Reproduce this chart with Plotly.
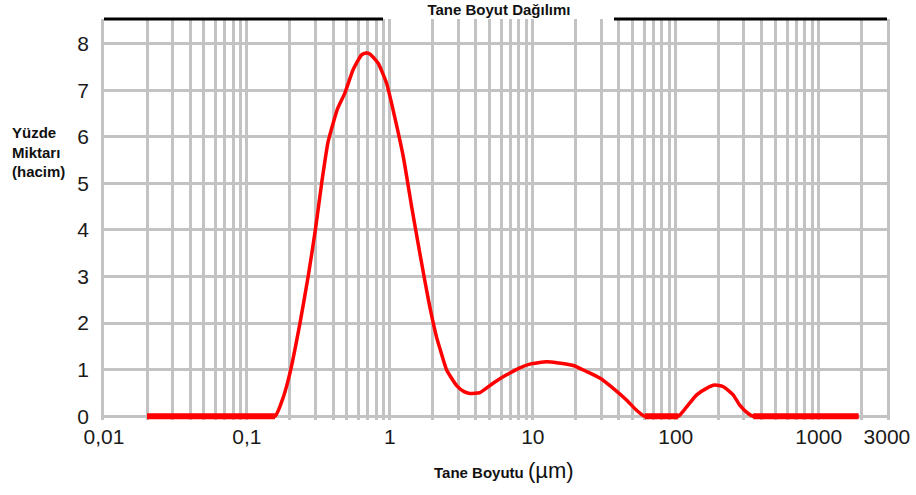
import numpy as np
import plotly.graph_objects as go

# Particle size (µm) and volume percentage
size_um = [0.02, 0.05, 0.1, 0.157, 0.18, 0.2, 0.235, 0.268, 0.30, 0.333, 0.37, 0.43,
           0.484, 0.553, 0.634, 0.68, 0.724, 0.828, 0.948, 1.08, 1.24, 1.42, 1.62,
           1.86, 2.12, 2.24, 2.49, 2.93, 3.3, 3.62, 4.26, 5.27, 6.55, 8.11, 9.53,
           12.5, 14.7, 19.2, 23.8, 29.4, 36.5, 45.2, 53.1, 60.7, 80, 104, 119, 140,
           164, 187, 214, 252, 280, 321, 348, 600, 1000, 1900]
volume_pct = [0, 0, 0, 0, 0.42, 0.93, 2.0, 3.0, 3.97, 5.0, 5.9, 6.6,
              6.94, 7.44, 7.76, 7.8, 7.78, 7.58, 7.15, 6.43, 5.58, 4.50, 3.50,
              2.50, 1.70, 1.45, 1.0, 0.66, 0.53, 0.49, 0.51, 0.71, 0.89, 1.04, 1.12,
              1.17, 1.15, 1.09, 0.96, 0.82, 0.60, 0.35, 0.13, 0, 0, 0, 0.2, 0.46,
              0.60, 0.67, 0.64, 0.46, 0.24, 0.06, 0, 0, 0, 0]

# Axis ticks / grid
x_decades = [0.01, 0.1, 1, 10, 100, 1000]
x_labeled = {0.01: "0,01", 0.1: "0,1", 1: "1", 10: "10", 100: "100", 1000: "1000", 3000: "3000"}
y_ticks = [0, 1, 2, 3, 4, 5, 6, 7, 8]

title_text = "Tane Boyut Dağılımı"
y_title = "Yüzde<br>Miktarı<br>(hacim)"

grid_vals = []
for d in x_decades:
    for m in range(1, 10):
        v = round(d * m, 6)
        if v <= 3000:
            grid_vals.append(v)
grid_text = [x_labeled.get(v, "") for v in grid_vals]

y_arr = np.array(volume_pct, dtype=float)
zero_only = np.where(y_arr == 0, y_arr, np.nan)

GRID = "#c3c3c3"
TICKFONT = dict(family="Liberation Sans Narrow, Liberation Sans, Arial", size=21, color="#1a1a1a")
BOLD = "Liberation Sans, Arial"

fig = go.Figure()
fig.add_trace(go.Scatter(x=size_um, y=volume_pct, mode="lines",
                         line=dict(color="#ff0000", width=3.5, shape="spline", smoothing=0.5),
                         hoverinfo="skip"))
fig.add_trace(go.Scatter(x=size_um, y=zero_only, mode="lines", connectgaps=False,
                         line=dict(color="#ff0000", width=6), hoverinfo="skip"))

fig.update_layout(
    width=916, height=495,
    margin=dict(l=104, r=29, t=19, b=75, autoexpand=False),
    paper_bgcolor="white", plot_bgcolor="white",
    showlegend=False,
    title=dict(text="<b>" + title_text + "</b>", x=499 / 916, xanchor="center",
               y=1 - 10 / 495, yanchor="middle", xref="container", yref="container",
               font=dict(family=BOLD, size=15, color="#111111")),
    xaxis=dict(type="log", range=[-2, np.log10(3000) + 0.0005],
               tickmode="array", tickvals=grid_vals, ticktext=grid_text,
               showgrid=True, gridcolor=GRID, gridwidth=2.5, automargin=False,
               showline=False, zeroline=False, ticks="",
               tickfont=TICKFONT, ticklabelstandoff=2),
    yaxis=dict(range=[-0.08, 8.53], tickmode="array", tickvals=y_ticks,
               showgrid=True, gridcolor=GRID, gridwidth=2.5, automargin=False,
               showline=True, linecolor=GRID, linewidth=2.5, mirror=True,
               zeroline=False, ticks="", tickfont=TICKFONT, ticklabelstandoff=8),
    shapes=[
        dict(type="line", xref="paper", yref="paper", x0=0, x1=(383 - 104) / 783,
             y0=1.0, y1=1.0, line=dict(color="black", width=3)),
        dict(type="line", xref="paper", yref="paper", x0=(614 - 104) / 783, x1=1,
             y0=1.0, y1=1.0, line=dict(color="black", width=3)),
    ],
    annotations=[
        dict(text="<b>" + y_title + "</b>", xref="paper", yref="paper",
             x=(10 - 104) / 783, y=(420 - 152) / 401, xanchor="left", yanchor="middle",
             align="left", showarrow=False,
             font=dict(family=BOLD, size=15, color="#111111")),
        dict(text="<b>Tane Boyutu</b> <span style='font-family:Liberation Sans Narrow, Liberation Sans;font-size:22px'>(µm)</span>",
             xref="paper", yref="paper", x=(504 - 104) / 783, y=(420 - 470) / 401,
             xanchor="center", yanchor="middle", showarrow=False,
             font=dict(family=BOLD, size=15, color="#111111")),
    ],
)

fig.write_html("out.html")
